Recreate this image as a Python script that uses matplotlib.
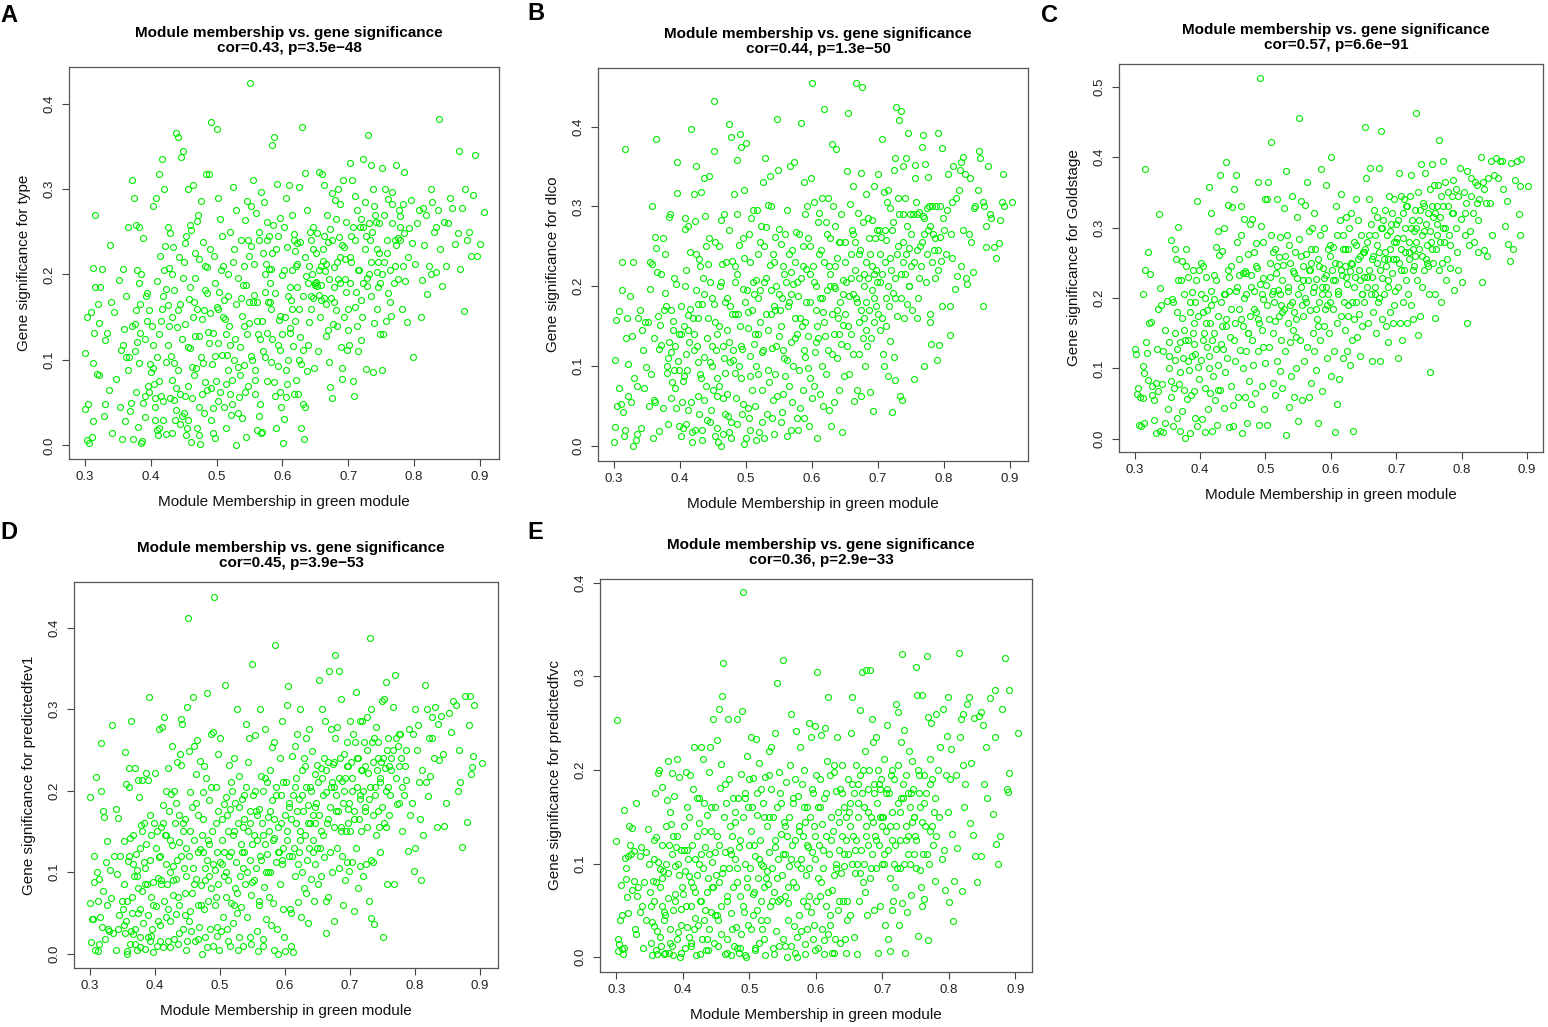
import numpy as np
import matplotlib.pyplot as plt

plt.rcParams['font.family'] = ['Liberation Sans', 'DejaVu Sans']

# MM / GS pairs, both x1000
type_pts = [
    301,43, 303,6, 306,3, 311,10, 312,28, 305,48, 300,108, 304,150, 309,156, 313,208, 316,185, 320,166,
    323,185, 316,270, 318,83, 322,82, 321,143, 326,207, 331,123, 334,131, 340,168, 344,156, 330,48, 329,34,
    347,78, 342,15, 336,65, 313,97, 314,131, 338,235,
    355,112, 358,118, 354,45, 356,7, 361,28, 363,104, 367,103, 370,50, 373,7, 376,142, 378,158, 380,121,
    383,96, 385,3, 387,5, 381,22, 389,50, 391,58, 379,205, 382,190, 386,200, 383,256, 378,258, 388,243,
    392,125, 394,146, 396,69, 398,63, 371,310, 365,255, 352,194, 358,207, 374,290, 360,136, 369,40, 395,178,
    393,175, 376,110, 384,165, 399,95,
    401,86, 403,90, 405,72, 406,55, 407,30, 409,18, 411,12, 410,104, 413,130, 415,145, 418,175, 420,205,
    422,233, 424,183, 426,164, 428,140, 431,105, 433,76, 435,53, 437,30, 439,67, 441,158, 443,221, 445,165,
    447,124, 404,280, 408,290, 412,318, 417,335, 421,300, 426,255, 430,248, 434,232, 438,366, 442,361, 446,338,
    449,344, 416,58, 419,30, 424,13, 429,55, 436,97, 440,138, 444,60, 448,34, 402,140, 414,222, 427,117,
    432,200, 450,215,
    451,38, 453,12, 455,20, 457,70, 459,114, 461,4, 463,55, 465,150, 467,128, 469,90, 471,20, 473,45,
    475,2, 477,104, 479,97, 481,158, 483,182, 485,209, 487,133, 489,120, 491,67, 493,95, 495,44, 497,105,
    499,75, 452,237, 456,300, 460,258, 464,305, 468,196, 472,270, 476,286, 480,238, 484,318, 488,318, 492,379,
    496,222, 458,171, 462,252, 470,263, 474,218, 478,148, 486,65, 490,155, 494,14, 498,9, 454,245, 466,168,
    482,74, 500,162,
    501,370, 503,290, 505,265, 508,245, 510,210, 512,170, 514,130, 516,106, 518,88, 520,60, 522,36, 524,77,
    526,100, 528,125, 530,0, 532,38, 534,57, 536,82, 538,152, 540,188, 542,210, 544,264, 546,286, 548,240,
    550,222, 502,160, 506,63, 509,106, 513,148, 517,200, 521,250, 525,302, 529,275, 533,196, 537,172, 541,94,
    545,10, 549,143, 504,180, 511,45, 519,140, 527,230, 535,115, 543,62, 547,130,
    551,424, 553,233, 555,168, 557,176, 559,76, 561,18, 563,130, 565,35, 567,14, 569,16, 571,110, 573,180,
    575,212, 577,240, 579,207, 581,190, 583,160, 585,125, 587,74, 589,58, 591,20, 593,117, 595,147, 597,152,
    599,199, 552,280, 556,310, 560,272, 564,250, 568,296, 572,285, 576,262, 580,245, 584,352, 588,361, 592,306,
    596,266, 554,100, 558,60, 562,145, 566,125, 570,225, 574,103, 578,168, 582,206, 586,258, 590,230, 594,93,
    598,45, 600,130,
    601,3, 603,31, 605,57, 607,72, 609,100, 611,137, 613,170, 615,205, 617,240, 619,228, 621,210, 623,185,
    625,160, 627,127, 629,95, 631,48, 633,8, 635,45, 637,87, 639,118, 641,144, 643,175, 645,200, 647,230,
    649,190, 602,256, 606,290, 610,305, 614,270, 618,247, 622,237, 626,302, 630,373, 634,319, 638,276, 642,250,
    646,255, 604,150, 608,175, 612,131, 616,116, 620,76, 624,60, 628,20, 632,112, 636,198, 640,210, 644,160,
    648,90, 650,188,
    651,191, 653,187, 655,176, 657,150, 659,210, 661,230, 663,245, 665,204, 667,165, 669,135, 671,98, 673,68,
    675,55, 677,142, 679,185, 681,158, 683,140, 685,195, 687,220, 689,115, 691,90, 693,150, 695,195, 697,180,
    699,135, 652,248, 656,320, 660,318, 664,305, 668,270, 672,253, 676,295, 680,287, 684,300, 688,282, 692,310,
    696,262, 654,110, 658,170, 662,216, 666,128, 670,238, 674,172, 678,209, 682,265, 686,244, 690,78, 694,232,
    698,112,
    701,118, 703,190, 705,215, 707,75, 709,58, 711,162, 713,140, 715,110, 717,205, 719,170, 721,150, 723,255,
    725,230, 727,89, 729,186, 731,200, 733,240, 735,175, 737,86, 739,143, 741,270, 743,203, 745,185, 747,225,
    749,130, 702,330, 706,310, 710,292, 714,275, 718,256, 722,335, 726,285, 730,363, 734,328, 738,300, 742,262,
    746,215, 704,245, 712,180, 720,123, 728,196, 736,250, 744,160, 748,190,
    751,88, 753,130, 755,215, 757,145, 759,240, 761,178, 763,168, 765,152, 767,260, 769,190, 771,210, 773,234,
    775,243, 777,276, 779,240, 781,160, 783,283, 785,248, 787,192, 789,144, 791,220, 793,254, 795,287, 797,237,
    799,103, 752,325, 756,300, 760,288, 766,296, 772,328, 778,269, 784,320,
    801,212, 804,260, 807,275, 810,150, 812,194, 815,235, 818,270, 820,177, 822,210, 825,200, 828,285, 831,250,
    834,203, 837,276, 840,230, 842,187, 845,262, 848,210, 838,382, 813,278, 826,300, 833,255,
    852,260, 855,290, 858,278, 862,236, 866,248, 870,207, 873,278, 876,157, 880,240, 884,250, 887,222, 890,293,
    893,340, 896,222, 900,236, 906,273, 868,345, 878,300,
    362,175, 366,88, 372,140, 377,62, 384,132, 391,33, 397,158, 404,118, 409,192, 412,75, 417,160, 423,98,
    428,208, 432,150, 436,182, 441,88, 445,25, 449,196, 452,142, 456,115, 460,185, 463,92, 467,225, 471,160,
    474,128, 478,60, 482,210, 486,178, 490,230, 494,132, 497,190, 503,120, 507,205, 510,150, 514,72, 517,175,
    521,118, 525,215, 529,165, 533,92, 537,240, 541,140, 545,188, 549,168, 553,105, 557,212, 561,168, 565,240,
    569,145, 573,200, 577,132, 581,168, 585,225, 589,178, 593,245, 597,112, 603,205, 607,232, 611,185, 615,160,
    619,145, 623,212, 627,238, 631,175, 635,220, 639,190, 643,240, 647,172, 651,225, 655,205, 659,188, 663,172,
    667,212, 671,195, 675,240, 679,168, 683,215, 687,190, 691,235, 695,218, 699,160, 703,220, 707,255, 711,240,
    715,205, 719,265, 723,190, 727,245, 731,260, 735,215, 739,280, 743,230, 747,260, 751,200, 755,270, 759,225,
    763,205, 767,282, 771,240, 775,195, 779,255, 783,210, 407,45, 413,20, 418,52, 432,15, 438,42, 452,58,
    457,30, 466,82, 473,12, 481,38, 492,30, 502,52, 515,20, 523,48, 539,32, 548,70, 558,88, 566,48,
    576,75, 583,98, 596,62, 605,88, 617,60, 626,100,
]

dlco_pts = [
    300,5, 301,24, 304,50, 308,73, 302,108, 303,158, 307,169, 312,195, 312,231, 329,231, 329,0, 316,372,
    310,52, 313,42, 315,13, 318,135, 320,160, 322,62, 324,188, 327,138, 331,85, 333,7, 335,75, 337,160,
    339,170, 341,22, 343,145, 345,72, 347,155, 349,99, 317,20, 326,55, 335,15, 344,120, 321,103,
    351,155, 353,50, 355,197, 357,228, 358,300, 360,135, 361,58, 362,262, 364,248, 364,385, 366,218, 368,19,
    370,152, 372,126, 374,48, 375,260, 377,240, 378,192, 379,175, 380,100, 381,91, 382,28, 383,130, 384,287,
    385,291, 386,60, 387,118, 388,80, 389,145, 390,157, 391,210, 392,73, 393,125, 394,203, 395,317, 396,355,
    397,107, 398,25, 399,95, 356,90, 359,10, 363,55, 367,163, 371,215, 376,170, 354,230, 369,122,
    401,140, 402,12, 403,55, 404,81, 405,22, 406,150, 407,272, 408,285, 409,115, 410,28, 411,95, 412,164,
    413,276, 414,130, 415,243, 416,172, 417,397, 418,5, 419,18, 420,160, 421,140, 422,315, 423,282, 424,195,
    425,350, 426,125, 427,105, 428,62, 429,234, 430,90, 431,225, 432,318, 433,20, 434,178, 435,210, 436,58,
    437,335, 438,288, 439,250, 440,75, 441,33, 442,228, 443,160, 444,338, 445,105, 446,205, 447,45, 448,185,
    449,125, 450,70, 413,45, 427,178, 437,112, 408,200,
    451,369, 452,432, 453,255, 454,155, 455,120, 456,22, 457,85, 458,5, 459,250, 460,75, 461,200, 462,0,
    463,283, 464,228, 465,15, 466,125, 467,290, 468,180, 469,92, 470,230, 471,65, 472,145, 473,38, 474,270,
    475,403, 476,175, 477,30, 478,387, 479,232, 480,108, 481,120, 482,315, 483,225, 484,205, 485,60, 486,358,
    487,290, 488,165, 489,252, 490,100, 491,391, 492,375, 493,125, 494,40, 495,260, 496,197, 497,3, 498,320,
    499,180, 500,10, 457,140, 466,60, 474,17, 483,165, 492,85, 476,105,
    501,379, 502,195, 503,48, 504,148, 505,265, 506,113, 507,20, 508,285, 509,70, 510,170, 511,295, 512,128,
    513,190, 514,50, 515,208, 516,100, 517,295, 518,140, 519,240, 520,18, 521,195, 522,155, 523,275, 524,70,
    525,118, 526,330, 527,205, 528,10, 529,360, 530,165, 531,274, 532,40, 533,302, 534,145, 535,80, 536,338,
    537,226, 538,195, 539,123, 540,35, 541,240, 542,175, 543,15, 544,262, 545,90, 546,200, 547,62, 548,410,
    549,345, 550,138, 506,230, 518,90, 527,250, 538,300, 545,170,
    551,272, 552,170, 553,253, 554,30, 555,185, 556,65, 557,225, 558,110, 559,88, 560,265, 561,205, 562,295,
    563,12, 564,175, 565,75, 566,240, 567,350, 568,130, 569,218, 570,55, 571,100, 572,203, 573,355, 574,160,
    575,230, 576,268, 577,35, 578,140, 579,188, 580,265, 581,95, 582,48, 583,210, 584,405, 585,150, 586,250,
    587,70, 588,330, 589,120, 590,290, 591,222, 592,180, 593,300, 594,98, 595,138, 596,25, 597,250, 598,215,
    599,335, 600,60, 556,120, 568,190, 579,20, 590,155, 597,85,
    601,455, 602,225, 603,75, 604,305, 605,118, 606,170, 607,200, 608,10, 609,280, 610,135, 611,292, 612,185,
    613,65, 614,245, 615,310, 616,100, 617,168, 618,422, 619,230, 620,138, 621,280, 622,90, 623,195, 624,310,
    625,120, 626,45, 627,260, 628,215, 629,25, 630,165, 631,378, 632,300, 633,140, 634,55, 635,275, 636,198,
    637,372, 638,110, 639,235, 640,160, 641,255, 642,70, 643,180, 644,290, 645,128, 646,18, 647,208, 648,152,
    649,88, 650,255, 608,150, 617,50, 626,225, 634,200, 642,140,
    651,165, 652,205, 653,125, 654,344, 655,417, 656,90, 657,188, 658,303, 659,240, 660,140, 661,270, 662,115,
    663,325, 664,56, 665,220, 666,255, 667,455, 668,180, 669,70, 670,292, 671,210, 672,155, 673,245, 674,62,
    675,342, 676,450, 677,135, 678,280, 679,200, 680,160, 681,100, 682,230, 683,180, 684,125, 685,285, 686,210,
    687,170, 688,67, 689,240, 690,135, 691,195, 692,283, 693,44, 694,155, 695,325, 696,260, 697,220, 698,175,
    699,270, 700,340, 662,190, 671,115, 683,315, 694,215,
    701,165, 702,270, 703,205, 704,145, 705,262, 706,385, 707,215, 708,115, 709,100, 710,318, 711,230, 712,185,
    713,258, 714,305, 715,88, 716,320, 717,175, 718,132, 719,298, 720,220, 721,42, 722,270, 723,192, 724,345,
    725,112, 726,360, 727,210, 728,425, 729,240, 730,163, 731,310, 732,408, 733,290, 734,62, 735,420, 736,185,
    737,58, 738,350, 739,230, 740,160, 741,310, 742,215, 743,360, 744,275, 745,178, 746,392, 747,248, 748,200,
    749,290, 750,225, 712,150, 726,82, 738,255,
    752,170, 754,290, 755,84, 756,335, 757,352, 758,305, 759,245, 760,160, 761,185, 763,293, 765,225, 767,375,
    768,390, 769,288, 770,100, 771,265, 772,353, 773,205, 775,298, 776,337, 777,270, 779,165, 780,155, 781,128,
    782,230, 784,265, 786,245, 788,300, 790,108, 791,392, 792,220, 793,127, 795,262, 796,232, 797,373, 798,175,
    799,285, 764,250, 778,300, 787,210,
    801,270, 803,240, 805,295, 807,340, 809,139, 810,175, 812,305, 813,235, 815,350, 817,197, 819,310, 821,213,
    823,320, 825,345, 827,355, 829,270, 830,362, 832,340, 834,210, 836,203, 838,265, 840,335, 842,255, 844,218,
    846,298, 848,300, 811,265, 826,225,
    852,320, 854,369, 855,360, 859,306, 859,175, 862,300, 865,249, 865,276, 868,351, 870,291, 872,285, 877,249,
    880,235, 884,254, 886,283, 888,306, 890,340, 891,300, 904,306,
    382,110, 386,170, 391,95, 394,48, 398,140, 402,175, 406,88, 409,220, 413,145, 417,55, 421,120, 424,240,
    428,160, 432,85, 436,190, 441,135, 444,260, 448,100, 452,178, 456,62, 459,150, 463,205, 467,110, 471,185,
    475,130, 479,165, 483,92, 487,215, 491,150, 494,122, 497,235, 503,168, 507,88, 511,205, 514,140, 518,185,
    522,255, 526,120, 530,210, 534,95, 538,165, 542,230, 546,125, 550,190, 554,150, 558,215, 562,108, 566,180,
    570,245, 574,135, 578,205, 582,160, 586,225, 590,112, 594,260, 598,180, 603,205, 607,130, 611,240, 615,185,
    619,155, 623,265, 627,200, 631,115, 635,225, 639,170, 643,255, 647,190, 651,230, 655,150, 659,210, 663,265,
    667,185, 671,240, 675,170, 679,215, 683,145, 687,260, 691,225, 695,185, 699,205, 703,240, 707,160, 711,270,
    715,200, 719,235, 723,280, 727,185, 731,250, 735,215, 739,290, 743,240, 747,200, 751,265, 755,230, 759,290,
    763,210, 767,255, 771,285, 775,240, 779,275, 783,300, 787,260, 791,245, 795,300, 423,20, 429,40, 434,8,
    446,30, 453,12, 468,40, 478,10, 487,28, 496,52, 505,35, 516,8, 525,30, 541,58, 555,42, 568,20, 588,35,
]

goldstage_pts = [
    300,128, 302,120, 303,64, 305,72, 307,20, 308,60, 310,19, 312,206, 312,58, 313,103, 315,94, 316,240,
    316,383, 318,138, 319,122, 320,84, 321,265, 322,165, 324,234, 325,166, 327,75, 329,27, 330,55, 332,80,
    333,8, 334,128, 335,185, 337,319, 338,12, 339,214, 341,190, 342,78, 344,125, 346,22, 347,154, 349,196,
    314,22, 326,62, 343,10, 336,68,
    351,42, 352,137, 353,100, 355,282, 356,60, 357,198, 358,18, 359,195, 361,112, 362,270, 363,255, 364,30,
    365,180, 366,301, 368,78, 369,12, 370,138, 371,225, 372,40, 373,252, 374,115, 375,205, 376,155, 377,2,
    378,270, 379,246, 380,57, 381,140, 382,230, 383,98, 384,180, 385,8, 386,62, 387,208, 388,117, 389,240,
    390,135, 391,164, 392,30, 393,195, 394,225, 395,337, 396,18, 397,102, 398,240, 399,85, 360,73, 367,225,
    375,70, 390,68,
    401,250, 402,112, 403,28, 404,180, 405,245, 406,150, 407,10, 408,72, 409,230, 410,183, 411,130, 412,43,
    413,100, 414,358, 415,65, 416,210, 417,320, 418,140, 419,12, 420,90, 421,233, 422,198, 423,55, 424,127,
    425,272, 426,20, 427,295, 428,105, 429,261, 430,70, 431,375, 432,195, 433,267, 434,160, 435,128, 436,44,
    437,300, 438,205, 439,170, 440,393, 441,115, 442,332, 443,240, 444,17, 445,210, 446,145, 447,75, 448,245,
    449,329, 450,48, 415,165, 427,70, 438,95, 407,200,
    451,18, 452,355, 453,165, 454,110, 455,375, 456,215, 457,280, 458,60, 459,233, 460,185, 461,126, 462,330,
    463,290, 464,8, 465,160, 466,100, 467,312, 468,238, 469,60, 470,205, 471,125, 472,22, 473,150, 474,262,
    475,82, 476,305, 477,175, 478,232, 479,140, 480,312, 481,105, 482,210, 483,265, 484,65, 485,278, 486,180,
    487,242, 488,125, 489,365, 490,20, 491,512, 492,220, 493,302, 494,155, 495,75, 496,280, 497,198, 498,42,
    499,340, 500,108, 466,235, 478,50, 488,170, 496,130,
    501,218, 502,340, 503,20, 504,365, 505,170, 506,130, 507,250, 508,422, 509,290, 510,205, 511,80, 512,150,
    513,195, 514,62, 515,270, 516,235, 517,340, 518,110, 519,212, 520,175, 521,258, 522,97, 523,287, 524,140,
    525,225, 526,72, 527,247, 528,185, 529,327, 530,125, 531,380, 532,5, 533,290, 534,165, 535,210, 536,275,
    537,137, 538,250, 539,90, 540,195, 541,345, 542,155, 543,60, 544,235, 545,265, 546,100, 547,145, 548,315,
    549,228, 550,26, 512,265, 524,190, 536,45, 544,180,
    551,455, 552,283, 553,140, 554,338, 555,215, 556,55, 557,245, 558,175, 559,110, 560,332, 561,200, 562,262,
    563,365, 564,130, 565,225, 566,295, 567,60, 568,183, 569,250, 570,80, 571,300, 572,150, 573,208, 574,125,
    575,320, 576,270, 577,98, 578,227, 579,170, 580,255, 581,22, 582,195, 583,290, 584,140, 585,383, 586,215,
    587,68, 588,243, 589,160, 590,300, 591,185, 592,360, 593,233, 594,115, 595,270, 596,205, 597,150, 598,275,
    599,195, 600,90, 556,190, 568,240, 580,160, 592,215,
    601,400, 602,240, 603,185, 604,272, 605,125, 606,225, 607,10, 608,330, 609,165, 610,290, 611,210, 612,85,
    613,248, 614,310, 615,175, 616,348, 617,232, 618,115, 619,290, 620,195, 621,245, 622,155, 623,315, 624,220,
    625,125, 626,270, 627,175, 628,300, 629,238, 630,105, 631,320, 632,195, 633,248, 634,12, 635,280, 636,170,
    637,230, 638,340, 639,195, 640,145, 641,310, 642,255, 643,178, 644,118, 645,225, 646,290, 647,205, 648,160,
    649,265, 650,230, 610,50, 622,270, 633,140, 645,260,
    651,195, 652,270, 653,442, 654,370, 655,215, 656,280, 657,165, 658,340, 659,240, 660,385, 661,205, 662,305,
    663,110, 664,260, 665,180, 666,325, 667,215, 668,290, 669,150, 670,250, 671,315, 672,195, 673,385, 674,265,
    675,110, 676,300, 677,437, 678,228, 679,170, 680,310, 681,255, 682,205, 683,325, 684,245, 685,160, 686,290,
    687,137, 688,215, 689,345, 690,270, 691,180, 692,305, 693,235, 694,320, 695,165, 696,280, 697,340, 698,210,
    699,255, 700,305, 663,230, 674,200, 688,255, 697,190,
    701,285, 702,215, 703,115, 704,378, 705,250, 706,165, 707,345, 708,270, 709,140, 710,320, 711,195, 712,340,
    713,265, 714,300, 715,225, 716,165, 717,330, 718,205, 719,280, 720,255, 721,345, 722,190, 723,375, 724,310,
    725,240, 726,170, 727,295, 728,325, 729,260, 730,462, 731,300, 732,225, 733,350, 734,148, 735,270, 736,325,
    737,175, 738,390, 739,260, 740,215, 741,335, 742,295, 743,240, 744,378, 745,255, 746,305, 747,275, 748,245,
    749,320, 750,205, 712,240, 726,270,
    751,355, 752,95, 753,280, 754,330, 755,390, 756,250, 757,315, 758,360, 759,172, 760,205, 761,270, 762,330,
    763,290, 764,360, 765,240, 766,424, 767,315, 768,195, 769,345, 770,250, 771,300, 772,395, 773,280, 775,365,
    777,255, 779,330, 781,290, 783,243, 785,320, 787,368, 789,212, 791,355, 793,265, 795,240, 797,385, 799,312,
    776,225, 786,345,
    801,222, 803,350, 805,290, 807,335, 809,165, 811,275, 813,295, 815,370, 817,320, 819,280, 821,365, 823,335,
    825,265, 827,340, 829,400, 831,222, 833,365, 835,268, 837,335, 839,260, 841,370, 843,335, 845,395, 847,290,
    849,375, 808,380, 824,360,
    852,398, 856,370, 858,395, 862,394, 866,302, 869,338, 871,277, 874,253, 876,392, 879,270, 882,368, 885,395,
    888,319, 889,290, 890,359, 891,397, 901,359, 864,355,
    352,118, 356,82, 361,150, 365,128, 369,95, 373,172, 377,140, 381,110, 385,195, 389,150, 393,120, 397,175,
    402,205, 405,140, 409,165, 413,118, 417,190, 421,150, 424,225, 428,175, 432,135, 436,205, 440,160, 444,230,
    448,185, 452,140, 455,210, 459,255, 463,170, 467,200, 471,235, 474,150, 478,215, 482,185, 486,245, 490,165,
    494,205, 497,228, 503,190, 507,230, 511,210, 514,168, 518,245, 522,205, 526,180, 530,260, 534,215, 538,190,
    542,238, 546,170, 550,205, 554,260, 558,225, 562,195, 566,240, 570,270, 574,215, 578,185, 582,245, 586,205,
    590,228, 594,190, 598,260, 603,225, 607,250, 611,205, 615,240, 619,270, 623,230, 627,190, 631,250, 635,215,
    639,275, 643,240, 647,205, 651,265, 655,230, 659,290, 663,255, 667,205, 671,275, 675,240, 679,300, 683,265,
    687,225, 691,295, 695,255, 699,280, 703,310, 707,240, 711,285, 715,330, 719,265, 723,300, 727,245, 731,280,
    735,310, 739,290, 743,330, 747,250, 751,295, 755,270, 759,320, 763,305, 767,280, 771,330, 775,300, 779,350,
    783,275, 787,320, 791,300, 795,345, 805,320, 815,345, 825,310, 835,355,
]

fev1_pts = [
    300,62, 301,192, 302,14, 303,43, 305,42, 306,120, 307,88, 308,5, 310,217, 311,100, 312,65, 313,3,
    314,12, 315,92, 317,258, 318,200, 319,33, 320,77, 321,175, 322,168, 324,18, 326,138, 327,60, 328,30,
    330,28, 331,103, 333,68, 335,280, 336,25, 338,120, 340,5, 341,177, 342,98, 343,166, 345,48, 347,120,
    349,65, 316,45, 325,112, 344,30,
    351,55, 352,138, 353,35, 354,247, 355,25, 356,208, 357,3, 358,0, 359,114, 360,228, 361,205, 362,142,
    363,28, 364,285, 365,50, 366,24, 367,145, 368,95, 369,12, 370,228, 371,122, 372,103, 373,5, 374,213,
    375,80, 376,192, 377,130, 378,20, 379,158, 380,213, 381,77, 382,38, 383,113, 384,160, 385,6, 386,222,
    387,135, 388,85, 389,48, 390,213, 391,315, 392,15, 393,170, 394,70, 395,145, 396,30, 397,2, 398,88,
    399,160, 357,65, 366,110, 374,50, 385,105,
    401,222, 402,58, 403,10, 404,150, 405,93, 406,275, 407,118, 408,35, 409,155, 410,90, 411,278, 412,8,
    413,182, 414,65, 415,290, 416,145, 417,45, 418,200, 419,85, 420,228, 421,15, 422,175, 423,100, 424,40,
    425,196, 426,133, 427,255, 428,72, 429,18, 430,200, 431,160, 432,92, 433,49, 434,235, 435,115, 436,12,
    437,170, 438,60, 439,245, 440,232, 441,288, 442,282, 443,150, 444,30, 445,105, 446,75, 447,165, 448,130,
    449,15, 450,302, 408,120, 418,145, 428,108, 438,137, 447,48,
    451,412, 452,248, 453,120, 454,52, 455,198, 456,28, 457,180, 458,75, 459,315, 460,140, 461,255, 462,15,
    463,92, 464,220, 465,262, 466,60, 467,170, 468,33, 469,128, 470,236, 471,84, 472,0, 473,145, 474,198,
    475,55, 476,230, 477,105, 478,20, 479,216, 480,115, 481,320, 482,65, 483,188, 484,135, 485,30, 486,270,
    487,80, 488,150, 489,10, 490,272, 491,438, 492,60, 493,103, 494,205, 495,33, 496,125, 497,245, 498,85,
    499,5, 500,112, 460,85, 474,125, 484,95, 494,160,
    501,265, 502,28, 503,110, 504,165, 505,45, 506,183, 507,125, 508,330, 509,70, 510,192, 511,30, 512,150,
    513,90, 514,232, 515,10, 516,178, 517,62, 518,125, 519,200, 520,38, 521,145, 522,240, 523,80, 524,185,
    525,112, 526,300, 527,50, 528,160, 529,20, 530,218, 531,95, 532,135, 533,57, 534,190, 535,105, 536,10,
    537,165, 538,125, 539,85, 540,282, 541,205, 542,45, 543,235, 544,150, 545,265, 546,20, 547,115, 548,72,
    549,88, 550,355, 510,100, 522,60, 535,155, 546,175,
    551,195, 552,145, 553,90, 554,268, 555,175, 556,105, 557,28, 558,140, 559,3, 560,178, 561,65, 562,300,
    563,115, 564,218, 565,160, 566,10, 567,200, 568,82, 569,275, 570,135, 571,42, 572,210, 573,122, 574,168,
    575,70, 576,150, 577,100, 578,225, 579,35, 580,253, 581,188, 582,62, 583,142, 584,260, 585,379, 586,112,
    587,205, 588,30, 589,155, 590,0, 591,125, 592,240, 593,85, 594,195, 595,110, 596,285, 597,55, 598,130,
    599,20, 600,170, 560,60, 571,100, 584,165, 596,115,
    601,3, 602,210, 603,140, 604,305, 605,328, 606,180, 607,120, 608,55, 609,165, 610,10, 611,242, 612,195,
    613,2, 614,130, 615,255, 616,95, 617,215, 618,160, 619,270, 620,63, 621,110, 622,190, 623,300, 624,150,
    625,45, 626,225, 627,100, 628,175, 629,240, 630,80, 631,145, 632,265, 633,205, 634,115, 635,38, 636,182,
    637,275, 638,130, 639,160, 640,200, 641,92, 642,248, 643,170, 644,140, 645,65, 646,220, 647,110, 648,185,
    649,130, 650,232, 609,50, 622,125, 633,75, 647,160,
    651,85, 652,170, 653,336, 654,130, 655,228, 656,95, 657,215, 658,300, 659,145, 660,240, 661,118, 662,285,
    663,25, 664,198, 665,160, 666,235, 667,70, 668,347, 669,180, 670,125, 671,275, 672,210, 673,100, 674,233,
    675,155, 676,40, 677,265, 678,366, 679,195, 680,130, 681,278, 682,175, 683,105, 684,347, 685,240, 686,155,
    687,312, 688,212, 689,60, 690,185, 691,245, 692,90, 693,215, 694,150, 695,112, 696,260, 697,178, 698,230,
    699,102, 700,285, 664,65, 676,205, 688,120, 698,160,
    701,150, 702,235, 703,200, 704,112, 705,270, 706,175, 707,52, 708,260, 709,321, 710,130, 711,205, 712,80,
    713,240, 714,165, 715,285, 716,108, 717,225, 718,150, 719,285, 720,200, 721,95, 722,260, 723,175, 724,230,
    725,110, 726,290, 727,155, 728,222, 729,65, 730,190, 731,387, 732,300, 733,44, 734,260, 735,170, 736,112,
    737,37, 738,265, 739,205, 740,145, 741,278, 742,225, 743,175, 744,240, 745,155, 746,210, 747,125, 748,235,
    749,180, 750,310, 716,190, 732,115,
    751,20, 752,312, 753,160, 754,228, 755,333, 756,155, 757,250, 758,86, 759,205, 760,170, 762,195, 764,240,
    766,302, 768,85, 769,342, 771,265, 772,183, 774,255, 776,230, 778,270, 780,150, 781,205, 783,195, 785,230,
    787,213, 789,126, 791,275, 793,170, 795,185, 797,270, 799,102, 800,300, 761,230, 775,185, 786,250,
    801,130, 803,250, 805,280, 808,165, 809,90, 811,225, 813,145, 816,330, 817,210, 819,300, 820,193, 822,265,
    824,218, 826,290, 829,240, 831,302, 834,155, 836,282, 838,237, 840,292, 843,245, 845,157, 848,185, 807,210,
    827,265,
    852,295, 855,272, 859,310, 863,305, 866,200, 868,250, 870,210, 872,131, 877,316, 880,161, 883,280, 885,316,
    887,220, 888,229, 889,242, 891,305, 904,234,
    352,85, 356,40, 361,120, 365,70, 369,30, 373,95, 377,55, 381,150, 385,85, 389,20, 393,115, 397,60,
    402,130, 405,40, 409,85, 413,160, 417,110, 421,55, 424,140, 428,90, 432,185, 436,70, 440,120, 444,160,
    448,95, 452,40, 455,150, 459,105, 463,185, 467,125, 471,60, 474,165, 478,90, 482,140, 486,205, 490,110,
    494,70, 497,175, 503,140, 507,95, 511,170, 514,120, 518,210, 522,150, 526,75, 530,180, 534,125, 538,195,
    542,100, 546,160, 550,135, 554,200, 558,170, 562,120, 566,145, 570,215, 574,100, 578,175, 582,140, 586,195,
    590,125, 594,160, 598,210, 603,150, 607,185, 611,120, 615,205, 619,175, 623,140, 627,195, 631,230, 635,160,
    639,205, 643,125, 647,180, 651,210, 655,150, 659,195, 663,225, 667,165, 671,205, 675,235, 679,175, 683,215,
    687,150, 691,200, 695,230, 699,185, 703,215, 707,165, 711,240, 715,195, 719,225, 723,180, 727,250, 731,205,
    735,235, 739,195, 743,260, 747,215, 751,240, 755,200, 759,265, 763,225, 767,250, 771,215, 775,270, 779,240,
    362,12, 378,8, 394,22, 408,15, 423,8, 437,25, 448,5, 466,18, 480,8, 496,22, 513,15, 528,5,
    548,12, 567,18, 583,5,
]

fvc_pts = [
    300,124, 301,253, 302,7, 303,20, 304,14, 306,40, 307,77, 308,45, 309,9, 310,3, 312,157, 313,106,
    314,95, 315,84, 316,64, 317,47, 318,108, 319,140, 321,120, 322,110, 324,138, 326,113, 327,81, 328,30,
    329,165, 330,25, 331,65, 333,75, 335,108, 337,118, 339,55, 340,10, 342,80, 344,112, 345,40, 347,137,
    349,100, 311,10, 323,72, 336,48,
    351,70, 352,15, 353,38, 354,2, 355,82, 356,33, 357,60, 358,175, 359,129, 360,80, 361,4, 362,197,
    363,102, 364,200, 365,22, 366,94, 367,12, 368,182, 369,85, 370,92, 371,40, 372,48, 373,5, 374,140,
    375,100, 376,168, 377,63, 378,210, 379,120, 380,155, 381,30, 382,142, 383,110, 384,197, 385,2, 386,50,
    387,172, 388,98, 389,60, 390,118, 391,130, 392,212, 393,27, 394,193, 395,88, 396,0, 397,115, 398,52,
    399,75, 357,125, 368,55, 379,5, 391,20,
    401,68, 402,140, 403,10, 404,92, 405,198, 406,32, 407,160, 408,105, 409,22, 410,87, 411,195, 412,55,
    413,12, 414,120, 415,180, 416,75, 417,225, 418,42, 419,105, 420,2, 421,130, 422,88, 423,35, 424,170,
    425,143, 426,60, 427,225, 428,110, 429,20, 430,212, 431,95, 432,165, 433,50, 434,118, 435,8, 436,152,
    437,70, 438,85, 439,30, 440,198, 441,225, 442,135, 443,48, 444,102, 445,255, 446,75, 447,15, 448,112,
    449,45, 450,88, 406,115, 418,70, 432,40, 443,160,
    451,130, 452,232, 453,40, 454,265, 455,80, 456,181, 457,206, 458,25, 459,279, 460,95, 461,314, 462,150,
    463,4, 464,112, 465,165, 466,60, 467,20, 468,255, 469,190, 470,95, 471,140, 472,47, 473,2, 474,130,
    475,75, 476,170, 477,12, 478,105, 479,155, 480,32, 481,255, 482,80, 483,170, 484,5, 485,118, 486,65,
    487,196, 488,25, 489,263, 490,150, 491,390, 492,48, 493,175, 494,100, 495,0, 496,215, 497,75, 498,35,
    499,190, 500,120, 458,55, 472,110, 486,10, 498,160,
    501,95, 502,235, 503,30, 504,160, 505,68, 506,192, 507,120, 508,10, 509,108, 510,233, 511,50, 512,152,
    513,85, 514,15, 515,208, 516,125, 517,60, 518,180, 519,30, 520,98, 521,165, 522,75, 523,2, 524,193,
    525,85, 526,140, 527,40, 528,78, 529,220, 530,112, 531,55, 532,180, 533,225, 534,95, 535,10, 536,150,
    537,70, 538,240, 539,118, 540,28, 541,160, 542,293, 543,105, 544,12, 545,198, 546,62, 547,132, 548,165,
    549,88, 550,318, 506,45, 518,100, 530,150, 543,60,
    551,20, 552,145, 553,110, 554,65, 555,187, 556,0, 557,130, 558,40, 559,97, 560,150, 561,205, 562,260,
    563,12, 564,120, 565,165, 566,80, 567,33, 568,190, 569,125, 570,242, 571,0, 572,100, 573,172, 574,45,
    575,140, 576,225, 577,105, 578,28, 579,185, 580,130, 581,60, 582,200, 583,145, 584,3, 585,88, 586,160,
    587,30, 588,118, 589,250, 590,95, 591,150, 592,235, 593,48, 594,112, 595,175, 596,20, 597,140, 598,247,
    599,105, 600,195, 558,75, 572,22, 586,55, 597,35,
    601,60, 602,305, 603,160, 604,10, 605,120, 606,190, 607,65, 608,237, 609,30, 610,142, 611,95, 612,3,
    613,170, 614,245, 615,55, 616,130, 617,210, 618,25, 619,278, 620,110, 621,195, 622,45, 623,150, 624,72,
    625,5, 626,135, 627,198, 628,88, 629,20, 630,178, 631,100, 632,235, 633,50, 634,155, 635,115, 636,15,
    637,180, 638,90, 639,205, 640,130, 641,60, 642,160, 643,98, 644,20, 645,150, 646,125, 647,40, 648,190,
    649,110, 650,155, 608,80, 621,35, 635,60, 646,5,
    651,165, 652,45, 653,240, 654,278, 655,100, 656,130, 657,22, 658,175, 659,90, 660,205, 661,125, 662,3,
    663,185, 664,150, 665,60, 666,195, 667,264, 668,115, 669,175, 670,305, 671,80, 672,160, 673,100, 674,220,
    675,140, 676,307, 677,45, 678,180, 679,120, 680,200, 681,307, 682,85, 683,150, 684,255, 685,110, 686,230,
    687,185, 688,50, 689,130, 690,235, 691,95, 692,165, 693,5, 694,200, 695,120, 696,150, 697,55, 698,190,
    699,140, 700,100, 662,100, 674,70, 686,145, 696,180,
    701,150, 702,212, 703,100, 704,35, 705,175, 706,135, 707,248, 708,115, 709,20, 710,175, 711,7, 712,85,
    713,195, 714,125, 715,155, 716,60, 717,190, 718,100, 719,75, 720,270, 721,140, 722,95, 723,262, 724,205,
    725,35, 726,155, 727,125, 728,230, 729,58, 730,324, 731,170, 732,100, 733,243, 734,5, 735,195, 736,125,
    737,48, 738,175, 739,130, 740,220, 741,100, 742,160, 743,66, 744,145, 745,210, 746,180, 747,110, 748,150,
    749,130, 750,95, 714,50, 728,170,
    751,310, 752,280, 753,200, 754,23, 755,175, 756,93, 757,160, 758,75, 759,55, 760,280, 761,110, 762,195,
    763,62, 764,140, 766,175, 767,322, 768,18, 769,257, 770,100, 771,212, 772,135, 773,250, 775,190, 776,120,
    778,155, 779,82, 780,260, 781,130, 783,200, 785,150, 787,225, 789,105, 791,265, 793,115, 794,72, 796,195,
    797,236, 798,155, 799,278, 800,59,
    801,190, 803,222, 805,132, 806,39, 808,82, 810,195, 812,117, 815,325, 816,235, 818,255, 820,71, 821,205,
    822,260, 823,160, 825,185, 828,270, 830,278, 832,143, 834,207, 836,131, 838,256, 840,108, 842,80, 845,258,
    848,108, 849,262, 851,248,
    853,185, 856,225, 858,170, 862,277, 866,153, 869,285, 870,235, 871,121, 874,100, 877,130, 880,265, 885,320,
    888,180, 889,176, 890,197, 891,285, 904,240,
    352,55, 356,105, 361,28, 365,75, 369,120, 373,45, 377,90, 381,15, 385,130, 389,68, 393,100, 397,35,
    402,115, 405,55, 409,150, 413,80, 417,30, 421,170, 424,100, 428,60, 432,135, 436,20, 440,110, 444,75,
    448,160, 452,45, 455,120, 459,90, 463,185, 467,65, 471,115, 474,30, 478,145, 482,95, 486,125, 490,55,
    494,170, 497,85, 503,135, 507,70, 511,175, 514,105, 518,40, 522,150, 526,92, 530,195, 534,60, 538,125,
    542,85, 546,175, 550,110, 554,140, 558,58, 562,105, 566,170, 570,75, 574,135, 578,95, 582,160, 586,120,
    590,65, 594,180, 598,130, 603,85, 607,160, 611,115, 615,175, 619,70, 623,125, 627,205, 631,95, 635,145,
    639,175, 643,110, 647,60, 651,140, 655,185, 659,115, 663,165, 667,90, 671,200, 675,130, 679,155, 683,95,
    687,175, 691,125, 695,185, 699,150, 703,110, 707,180, 711,140, 715,200, 719,120, 723,165, 727,95, 731,185,
    735,140, 739,110, 743,175, 747,150, 751,125, 755,195, 759,145, 763,165, 767,110, 771,185, 775,140, 779,170,
    359,8, 371,3, 383,12, 398,5, 412,15, 426,3, 438,8, 453,12, 466,5, 481,10, 494,2, 509,8,
    522,20, 537,4, 553,12, 568,5, 583,14, 599,8, 612,18, 628,5,
]

panel_pts = [type_pts, dlco_pts, goldstage_pts, fev1_pts, fvc_pts]
traits = ['type', 'dlco', 'Goldstage', 'predictedfev1', 'predictedfvc']
cor_vals = ['0.43', '0.44', '0.57', '0.45', '0.36']
p_vals = ['3.5e-48', '1.3e-50', '6.6e-91', '3.9e-53', '2.9e-33']
letters = ['A', 'B', 'C', 'D', 'E']
x_ticks = [0.3, 0.4, 0.5, 0.6, 0.7, 0.8, 0.9]
y_ticks = [[0.0, 0.1, 0.2, 0.3, 0.4]] * 2 + [[0.0, 0.1, 0.2, 0.3, 0.4, 0.5]] + [[0.0, 0.1, 0.2, 0.3, 0.4]] * 2

# 配置（ピクセル、左上原点）: left, top, width, height
W, H = 1548, 1027
boxes = [(69, 67, 430, 392), (598, 68, 430, 393), (1119, 64, 424, 388),
         (74, 582, 424, 386), (600, 579, 432, 393)]
xlims = [(0.276, 0.929), (0.2758, 0.928), (0.276, 0.9245), (0.2758, 0.928), (0.2755, 0.925)]
ylims = [(-0.0159, 0.4428), (-0.0188, 0.4733), (-0.0185, 0.532), (-0.0175, 0.4558), (-0.0157, 0.404)]
letter_xy = [(0, 4), (527, 2), (1041, 4), (0, 521), (527, 521)]

fig = plt.figure(figsize=(W / 100, H / 100), dpi=100)

for i in range(5):
    l, t, w, h = boxes[i]
    ax = fig.add_axes([l / W, 1 - (t + h) / H, w / W, h / H])
    pts = np.array(panel_pts[i], dtype=float).reshape(-1, 2) / 1000
    ax.plot(pts[:, 0], pts[:, 1], 'o', ls='none', mfc='none', mec='#00ee00', ms=4.3, mew=0.8)
    ax.set_xlim(*xlims[i])
    ax.set_ylim(*ylims[i])
    ax.set_xticks(x_ticks)
    ax.set_xticklabels(['%.1f' % v for v in x_ticks])
    ax.set_yticks(y_ticks[i])
    ax.set_yticklabels(['%.1f' % v for v in y_ticks[i]], rotation=90, va='center')
    ax.tick_params(direction='out', length=5, width=0.8, color='#444444',
                   labelsize=9.5, labelcolor='#222222')
    ax.tick_params(axis='x', pad=3.5)
    ax.tick_params(axis='y', pad=5)
    for s in ax.spines.values():
        s.set_color('#555555')
        s.set_linewidth(0.9)

    # 軸ラベル
    ax.annotate('Module Membership in green module', xy=(0.5, 0), xycoords='axes fraction',
                xytext=(0, -43), textcoords='offset pixels', ha='center', va='center',
                fontsize=11, color='#111111')
    ax.annotate('Gene significance for ' + traits[i], xy=(0, 0.5), xycoords='axes fraction',
                xytext=(-45, 0), textcoords='offset pixels', ha='center', va='center',
                rotation=90, fontsize=11, color='#111111')
    # タイトル（2行）
    ax.annotate('Module membership vs. gene significance', xy=(0.5, 1), xycoords='axes fraction',
                xytext=(5, 34), textcoords='offset pixels', ha='center', va='center',
                fontsize=11, fontweight='bold')
    ax.annotate('cor=%s, p=%s' % (cor_vals[i], p_vals[i].replace('-', '\u2212')),
                xy=(0.5, 1), xycoords='axes fraction', xytext=(5, 19), textcoords='offset pixels',
                ha='center', va='center', fontsize=11, fontweight='bold')

    lx, ly = letter_xy[i]
    fig.text(lx / W, 1 - ly / H, letters[i], ha='left', va='top', fontsize=17, fontweight='bold')

fig.savefig('out.png', dpi=100)
